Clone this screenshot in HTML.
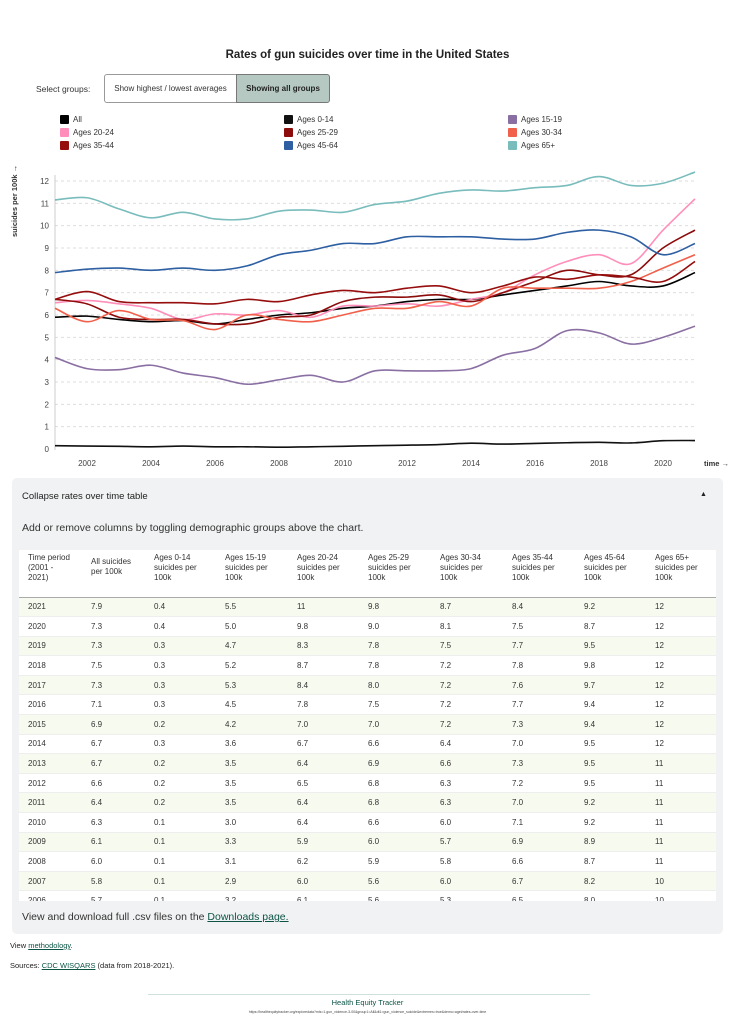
<!DOCTYPE html>
<html><head><meta charset="utf-8"><style>
*{box-sizing:border-box;margin:0;padding:0}
body{width:735px;height:1024px;background:#fff;font-family:"Liberation Sans",sans-serif;color:#222;position:relative;overflow:hidden}
.abs{position:absolute}
.title{top:49px;left:0;width:735px;text-align:center;font-weight:bold;font-size:11.5px}
.sel{top:84px;left:36px;font-size:8.5px;color:#333}
.btn{top:74px;height:29px;border:1px solid #999;font-size:8px;display:flex;align-items:center;justify-content:center}
.leg{font-size:8px;color:#333;display:flex;align-items:center}
.leg i{display:inline-block;width:9px;height:9px;border-radius:1px;margin-right:4px}
.panel{left:12px;top:478px;width:711px;height:456px;background:#f1f2f3;border-radius:5px}
table{border-collapse:collapse;font-size:8px;color:#333}
td,th{text-align:left;font-weight:normal;vertical-align:top;padding:0 0 0 9px}
a{color:#0b5446}
</style></head><body>
<div class="abs title">Rates of gun suicides over time in the United States</div>
<div class="abs sel">Select groups:</div>
<div class="abs btn" style="left:104px;width:133px;border-radius:3px 0 0 3px;background:#fff;color:#333">Show highest / lowest averages</div>
<div class="abs btn" style="left:236px;width:94px;border-radius:0 3px 3px 0;background:#b5c8c1;font-weight:bold;border-color:#777">Showing all groups</div>
<div id="legend"></div>
<svg id="chart" class="abs" style="left:0;top:160px" width="735" height="315"></svg>
<div class="abs panel">
  <div class="abs" style="left:10px;top:13px;font-size:9.5px;color:#222">Collapse rates over time table</div>
  <div class="abs" style="left:688px;top:13px;font-size:7px">▲</div>
  <div class="abs" style="left:10px;top:44px;font-size:10.5px;color:#333">Add or remove columns by toggling demographic groups above the chart.</div>
  <div class="abs" style="left:7px;top:72px;width:697px;height:351px;overflow:hidden;background:#fff">
    <table id="tbl"></table>
  </div>
  <div class="abs" style="left:10px;top:433px;font-size:10.5px;color:#333">View and download full .csv files on the <a href="#">Downloads page.</a></div>
</div>
<div class="abs" style="left:10px;top:941px;font-size:7.5px">View <a href="#">methodology</a>.</div>
<div class="abs" style="left:10px;top:961px;font-size:7.5px">Sources: <a href="#">CDC WISQARS</a> (data from 2018-2021).</div>
<div class="abs" style="left:148px;top:994px;width:442px;height:1px;background:#cfe0da"></div>
<div class="abs" style="left:0;top:998px;width:735px;text-align:center;font-size:7.5px;color:#0b5446">Health Equity Tracker</div>
<div class="abs" style="left:0;top:1010px;width:735px;text-align:center;font-size:3.5px;color:#444">https://healthequitytracker.org/exploredata?mls=1.gun_violence-3-00&amp;group1=All&amp;dt1=gun_violence_suicide&amp;extremes=true&amp;demo=age#rates-over-time</div>
<script>
const years=[2001,2002,2003,2004,2005,2006,2007,2008,2009,2010,2011,2012,2013,2014,2015,2016,2017,2018,2019,2020,2021];
const groupNames=["All","Ages 0-14","Ages 15-19","Ages 20-24","Ages 25-29","Ages 30-34","Ages 35-44","Ages 45-64","Ages 65+"];
const colors=["#000000","#111111","#8a6fa3","#ff8fba","#8c0b0b","#f0604a","#960d0d","#2d5fa2","#79bcbc"];
const sAll=[5.9,5.95,5.8,5.7,5.75,5.6,5.8,6.0,6.1,6.3,6.4,6.6,6.7,6.7,6.9,7.1,7.3,7.5,7.3,7.3,7.9];
const s0_14=[0.15,0.13,0.12,0.1,0.13,0.1,0.1,0.08,0.1,0.12,0.15,0.17,0.2,0.26,0.22,0.25,0.28,0.3,0.27,0.37,0.38];
const s15_19=[4.1,3.6,3.55,3.75,3.4,3.2,2.9,3.1,3.3,3.0,3.5,3.5,3.5,3.6,4.2,4.5,5.3,5.2,4.7,5.0,5.5];
const s20_24=[6.55,6.65,6.5,6.3,5.8,6.05,6.0,6.2,5.9,6.4,6.4,6.5,6.4,6.7,7.0,7.8,8.4,8.7,8.3,9.8,11.2];
const s25_29=[6.7,6.5,5.9,5.8,5.8,5.6,5.6,5.9,6.0,6.6,6.8,6.8,6.9,6.6,7.0,7.5,8.0,7.8,7.8,9.0,9.8];
const s30_34=[6.3,5.7,6.2,5.8,5.75,5.35,6.0,5.8,5.7,6.0,6.3,6.3,6.6,6.4,7.2,7.2,7.2,7.2,7.5,8.1,8.7];
const s35_44=[6.7,7.05,6.6,6.55,6.55,6.5,6.7,6.6,6.9,7.1,7.0,7.2,7.3,7.0,7.3,7.7,7.6,7.8,7.7,7.5,8.4];
const s45_64=[7.9,8.05,8.1,8.0,8.1,8.0,8.2,8.7,8.9,9.2,9.2,9.5,9.5,9.5,9.4,9.4,9.7,9.8,9.5,8.7,9.2];
const s65=[11.15,11.25,10.75,10.35,10.6,10.3,10.3,10.65,10.7,10.6,10.95,11.1,11.45,11.6,11.55,11.7,11.8,12.2,11.8,11.9,12.4];
const series=[sAll,s0_14,s15_19,s20_24,s25_29,s30_34,s35_44,s45_64,s65];
const yTicks=[0,1,2,3,4,5,6,7,8,9,10,11,12];
const xTicks=[2002,2004,2006,2008,2010,2012,2014,2016,2018,2020];
const tableYears=[2021,2020,2019,2018,2017,2016,2015,2014,2013,2012,2011,2010,2009,2008,2007,2006];
const tableRows=[
["7.9","0.4","5.5","11","9.8","8.7","8.4","9.2","12"],
["7.3","0.4","5.0","9.8","9.0","8.1","7.5","8.7","12"],
["7.3","0.3","4.7","8.3","7.8","7.5","7.7","9.5","12"],
["7.5","0.3","5.2","8.7","7.8","7.2","7.8","9.8","12"],
["7.3","0.3","5.3","8.4","8.0","7.2","7.6","9.7","12"],
["7.1","0.3","4.5","7.8","7.5","7.2","7.7","9.4","12"],
["6.9","0.2","4.2","7.0","7.0","7.2","7.3","9.4","12"],
["6.7","0.3","3.6","6.7","6.6","6.4","7.0","9.5","12"],
["6.7","0.2","3.5","6.4","6.9","6.6","7.3","9.5","11"],
["6.6","0.2","3.5","6.5","6.8","6.3","7.2","9.5","11"],
["6.4","0.2","3.5","6.4","6.8","6.3","7.0","9.2","11"],
["6.3","0.1","3.0","6.4","6.6","6.0","7.1","9.2","11"],
["6.1","0.1","3.3","5.9","6.0","5.7","6.9","8.9","11"],
["6.0","0.1","3.1","6.2","5.9","5.8","6.6","8.7","11"],
["5.8","0.1","2.9","6.0","5.6","6.0","6.7","8.2","10"],
["5.7","0.1","3.2","6.1","5.6","5.3","6.5","8.0","10"]];
const NS="http://www.w3.org/2000/svg";
const svg=document.getElementById('chart');
const X0=55,X1=695,Y0=289,Y1=21;
const xs=v=>X0+(v-2001)/(2021-2001)*(X1-X0);
const ys=v=>Y0-v/12*(Y0-Y1);
function mk(t,a){const e=document.createElementNS(NS,t);for(const k in a)e.setAttribute(k,a[k]);svg.appendChild(e);return e;}
yTicks.forEach(t=>{
  if(t>0){const l=mk('line',{x1:X0,x2:X1,y1:ys(t),y2:ys(t),stroke:'#ddd','stroke-dasharray':'3,3'});
  
  }
  const tx=mk('text',{x:X0-6,y:ys(t)+3,'text-anchor':'end','font-size':'8','fill':'#444'});tx.textContent=t;
  
  
});
xTicks.forEach(t=>{
  const tx=mk('text',{x:xs(t),y:306,'text-anchor':'middle','font-size':'8','fill':'#444'});tx.textContent=t;
  
  
});
const ax=mk('line',{x1:X0,x2:X0,y1:15,y2:Y0+1,stroke:'#ccc'});


const xl=mk('text',{x:704,y:306,'font-size':'7.5','fill':'#333','font-weight':'bold'});xl.textContent='time →';


const yl=mk('text',{x:0,y:0,'font-size':'7.5','fill':'#333','font-weight':'bold',transform:'translate(17,77) rotate(-90)'});yl.textContent='suicides per 100k →';


function path(vals){
  const p=vals.map((v,i)=>[xs(years[i]),ys(v)]);
  let d='M'+p[0][0]+','+p[0][1];
  for(let i=0;i<p.length-1;i++){
    const a=p[Math.max(0,i-1)],b=p[i],c=p[i+1],e=p[Math.min(p.length-1,i+2)];
    d+=' C'+(b[0]+(c[0]-a[0])/6)+','+(b[1]+(c[1]-a[1])/6)+' '+(c[0]-(e[0]-b[0])/6)+','+(c[1]-(e[1]-b[1])/6)+' '+c[0]+','+c[1];
  }
  return d;
}
series.forEach((s,i)=>{
  const p=mk('path',{d:path(s),fill:'none',stroke:colors[i],'stroke-width':'1.6'});
  
  
});
// legend
const leg=document.getElementById('legend');
const lx=[60,284,508];
groupNames.forEach((g,i)=>{
  const d=document.createElement('div');
  d.className='abs leg';
  d.style.left=lx[i%3]+'px';d.style.top=(115+Math.floor(i/3)*13)+'px';
  d.innerHTML='<i style="background:'+colors[i]+'"></i>'+g;
  
  
  leg.appendChild(d);
});
// table
const tbl=document.getElementById('tbl');
const colW=[63,63,71,72,71,72,72,72,71,70];
const heads=["Time period (2001 - 2021)","All suicides per 100k","Ages 0-14 suicides per 100k","Ages 15-19 suicides per 100k","Ages 20-24 suicides per 100k","Ages 25-29 suicides per 100k","Ages 30-34 suicides per 100k","Ages 35-44 suicides per 100k","Ages 45-64 suicides per 100k","Ages 65+ suicides per 100k"];
let h='<tr style="height:47px;border-bottom:1px solid #aaa">';
heads.forEach((t,i)=>{h+='<th style="width:'+colW[i]+'px;padding-top:'+(i==0?3:i==1?7:3)+'px;padding-right:6px;line-height:10px">'+t+'</th>';});
h+='</tr>';
tableYears.forEach((y,r)=>{
  h+='<tr style="height:19.6px;background:'+(r%2==0?'#f7faef':'#fff')+';border-bottom:1px solid #eee"><td style="vertical-align:middle">'+y+'</td>';
  tableRows[r].forEach(v=>{h+='<td style="vertical-align:middle">'+v+'</td>';});
  h+='</tr>';
});
tbl.innerHTML=h;
tbl.querySelectorAll('tr').forEach((tr,i)=>{
  
  
});
</script>
</body></html>
